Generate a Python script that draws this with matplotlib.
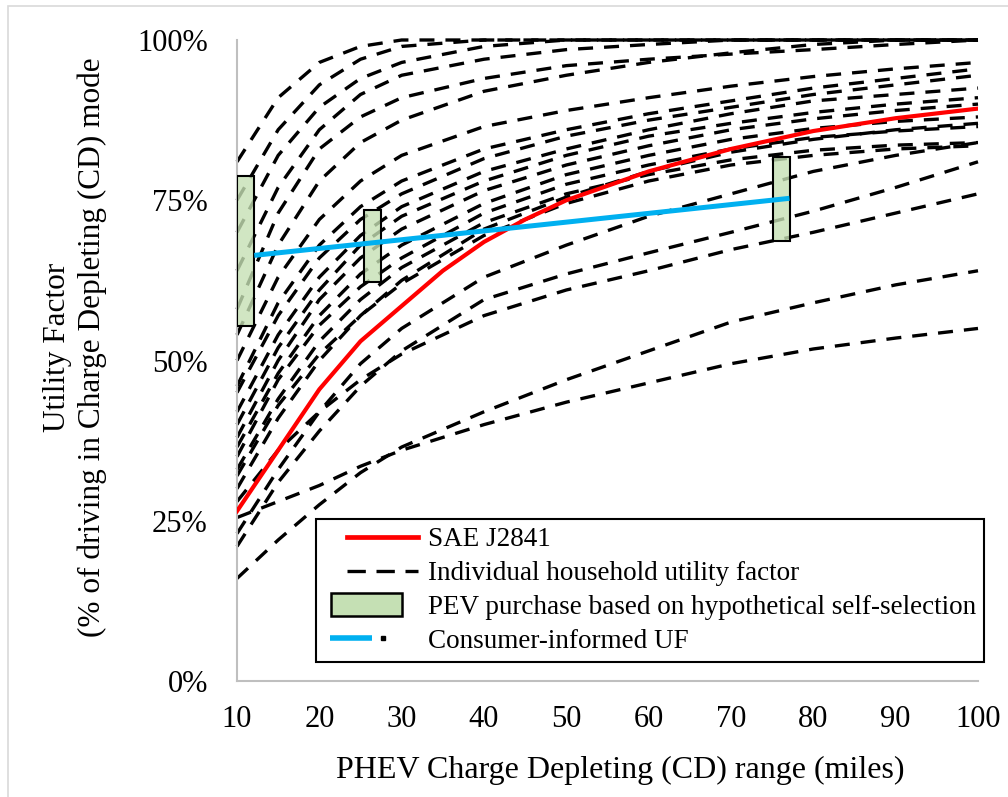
import matplotlib.pyplot as plt
from matplotlib.lines import Line2D
from matplotlib.patches import Rectangle

plt.rcParams['font.family'] = ['Liberation Serif', 'DejaVu Serif']

# CD range (miles) where the household curves were read
range_pts = [10, 15, 20, 25, 30, 40, 50, 60, 70, 80, 90, 100]

# individual household utility factors (%)
hh01 = [81, 91, 96.5, 99, 100, 100, 100, 100, 100, 100, 100, 100]
hh02 = [75, 86, 93, 97, 99, 100, 100, 100, 100, 100, 100, 100]
hh03 = [70, 82, 89.5, 94, 96.5, 99, 100, 100, 100, 100, 100, 100]
hh04 = [64, 77, 86, 91.5, 94.5, 97, 98.5, 99.3, 100, 100, 100, 100]
hh05 = [58, 73, 83, 88, 91, 94, 96, 97, 97.8, 98.5, 99.3, 100]
hh06 = [54, 68, 78, 84, 87.5, 92, 94.5, 96.5, 98, 99.3, 100, 100]
hh07 = [50, 63, 72, 78, 82, 86.5, 89, 91, 92.8, 94.3, 95.5, 96.5]
hh08 = [46, 59, 68, 74, 78, 83, 86, 88.5, 90.5, 92.5, 94, 95.5]
hh09 = [45, 57, 66, 72, 76, 81.5, 85, 87.5, 89.5, 91.5, 93, 94.5]
hh10 = [42, 54, 63, 69.5, 74, 79.5, 83, 86, 88.5, 90.5, 91.5, 92.5]
hh11 = [40, 52, 61, 68, 72.5, 78, 82, 85, 87, 88.7, 90, 91]
hh12 = [38, 50, 59.5, 66, 70.5, 76.5, 80.5, 83.5, 86, 87.7, 89, 90]
hh13 = [36.5, 48, 57, 63.5, 68, 74.5, 79, 82, 84.5, 86.2, 87.3, 88]
hh14 = [35, 47, 55.5, 61.5, 66, 73, 77.5, 80.5, 83, 84.8, 85.8, 86.5]
hh15 = [33, 44, 53, 59.5, 64.5, 71.5, 76, 79, 81.3, 82.8, 83.6, 84]
hh16 = [32, 43, 51, 57, 62, 69.5, 74.5, 78, 80.5, 82, 83, 83.5]
hh17 = [30, 41, 50, 57, 62.5, 70.5, 75.5, 79.5, 82.5, 84.5, 86, 87]
hh18 = [23, 33, 42, 49.5, 55, 63, 68, 72.5, 76, 79.5, 82, 84]
hh19 = [21, 31, 39, 46, 51.5, 59.5, 63.5, 66.8, 70, 73.3, 77, 81]
hh20 = [28, 36, 42, 47, 51, 57, 61, 64, 67.3, 70, 73, 76]
hh21 = [16, 22, 27.5, 32.5, 36.5, 42, 47, 51.5, 56, 59, 61.8, 64]
hh22 = [25.5, 28, 30.5, 33.5, 36, 40, 43.5, 46.5, 49.5, 51.8, 53.5, 55]

households = [hh01, hh02, hh03, hh04, hh05, hh06, hh07, hh08, hh09, hh10, hh11,
              hh12, hh13, hh14, hh15, hh16, hh17, hh18, hh19, hh20, hh21, hh22]

# SAE J2841 fleet utility factor
sae_range = [10, 15, 20, 25, 30, 35, 40, 45, 50, 60, 70, 80, 90, 100]
sae_uf = [26.5, 36, 45.5, 53, 58.5, 64, 68.5, 72, 75, 79.5, 83, 85.8, 87.8, 89.3]

# self-selection boxes (range in miles, UF low/high in %)
box_range = [11.05, 26.45, 76.15]
box_low = [55.4, 62.2, 68.6]
box_high = [78.8, 73.5, 81.7]

# consumer-informed UF
ci_range = [12.1, 27.5, 77.1]
ci_uf = [66.4, 68.5, 75.3]

RED = '#FF0000'
BLUE = '#00B0F0'
GREEN = '#C5E0B4'
DASH = (4.5, 3.3)


class SegHandler:
    # draws a legend key between two positions given in font sizes
    def __init__(self, kind, x0, x1, dot=None):
        self.kind = kind
        self.x0 = x0
        self.x1 = x1
        self.dot = dot

    def legend_artist(self, legend, orig_handle, fontsize, handlebox):
        xd, yd = handlebox.xdescent, handlebox.ydescent
        h = handlebox.height
        a = -xd + self.x0 * fontsize
        b = -xd + self.x1 * fontsize
        ym = -yd + h / 2
        tr = handlebox.get_transform()
        if self.kind == 'patch':
            art = Rectangle((a, ym - 0.42 * fontsize), b - a, 0.84 * fontsize,
                            facecolor=GREEN, edgecolor='black', lw=1.8, transform=tr)
        elif self.kind == 'red':
            art = Line2D([a, b], [ym, ym], color=RED, lw=3.4, transform=tr)
        elif self.kind == 'dash':
            art = Line2D([a, b], [ym, ym], color='black', lw=2.4, dashes=(5.5, 3.2),
                         transform=tr)
        else:
            art = Line2D([a, b], [ym, ym], color=BLUE, lw=4, transform=tr,
                         solid_capstyle='butt')
        handlebox.add_artist(art)
        if self.dot is not None:
            d = Line2D([-xd + self.dot * fontsize], [ym], marker='s', ms=3,
                       color='black', lw=0, transform=tr)
            handlebox.add_artist(d)
        return art


fig = plt.figure(figsize=(10.08, 7.97), dpi=100)
ax = fig.add_axes([237 / 1008, 1 - 681 / 797, (978 - 237) / 1008, (681 - 40) / 797])

for uf in households:
    ax.plot(range_pts, uf, color='black', lw=2.4, dashes=DASH,
            zorder=2, clip_on=False)

ax.plot(sae_range, sae_uf, color=RED, lw=3, zorder=3)

heights = [hi - lo for hi, lo in zip(box_high, box_low)]
ax.bar(box_range, heights, bottom=box_low, width=2.1,
       facecolor=(0.776, 0.878, 0.706, 0.8), edgecolor='black', lw=1.5, zorder=4)

ax.plot(ci_range, ci_uf, color=BLUE, lw=3.6, zorder=5, solid_capstyle='butt')

ax.set_xlim(10, 100)
ax.set_ylim(0, 100)
ax.set_xticks(range(10, 101, 10))
ax.set_yticks([0, 25, 50, 75, 100])
ax.set_yticklabels(['0%', '25%', '50%', '75%', '100%'])
ax.tick_params(length=0, labelsize=22)
ax.tick_params(axis='x', pad=17)
ax.tick_params(axis='y', pad=21)
for s in ['top', 'right']:
    ax.spines[s].set_visible(False)
for s in ['left', 'bottom']:
    ax.spines[s].set_color('#BFBFBF')
    ax.spines[s].set_linewidth(1.5)

fig.text(75 / 1008, 1 - 347 / 797,
         'Utility Factor\n(% of driving in Charge Depleting (CD) mode',
         rotation=90, ha='center', va='center', fontsize=22.5, linespacing=1.25,
         multialignment='center')
fig.text(620 / 1008, 1 - 770 / 797, 'PHEV Charge Depleting (CD) range (miles)',
         ha='center', va='center', fontsize=23)

labels = ['SAE J2841', 'Individual household utility factor',
          'PEV purchase based on hypothetical self-selection',
          'Consumer-informed UF']
keys = ['red', 'dash', 'patch', 'blue']
handles = [Line2D([], []) for _ in keys]
hmap = {
    handles[0]: SegHandler('red', 0.85, 3.45),
    handles[1]: SegHandler('dash', 0.85, 3.45),
    handles[2]: SegHandler('patch', 0.26, 2.87),
    handles[3]: SegHandler('blue', 0.22, 1.76, dot=2.17),
}
leg = fig.legend(handles, labels, loc='upper left', handler_map=hmap,
                 bbox_to_anchor=(316 / 1008, 1 - 519 / 797),
                 frameon=True, fancybox=False, edgecolor='black', framealpha=1,
                 fontsize=19.5, handlelength=3.45, handletextpad=0.37,
                 labelspacing=0.33, borderpad=0.3, borderaxespad=0)
leg.get_frame().set_linewidth(1.5)
leg.set_zorder(10)

fig.add_artist(Rectangle((8 / 1008, -0.02), 1.1, 1 - 6 / 797 + 0.02,
                         transform=fig.transFigure, fill=False,
                         edgecolor='#D9D9D9', lw=1.2))

fig.savefig('out.png', dpi=100)
